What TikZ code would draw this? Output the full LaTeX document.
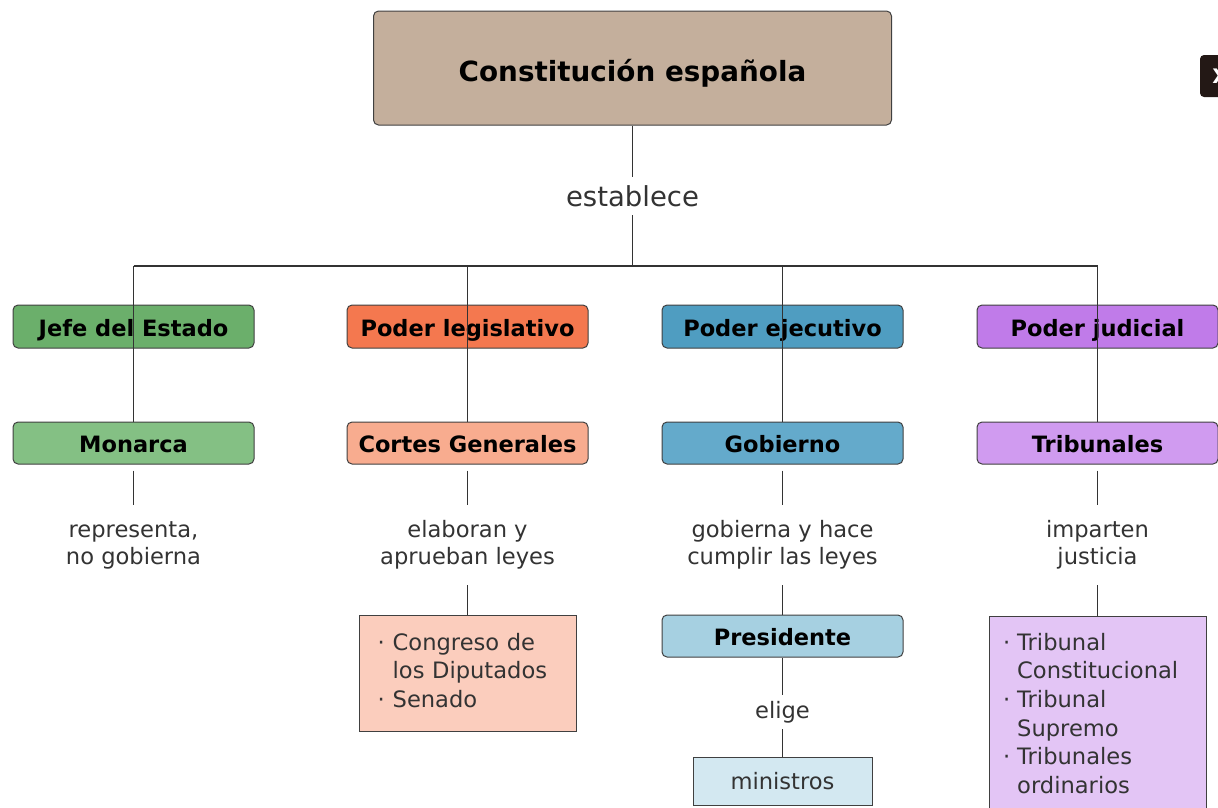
\documentclass[tikz,border=0pt]{standalone}
\usepackage{fontspec}
\setmainfont{DejaVu Sans}
\begin{document}
\begin{tikzpicture}[x=1pt,y=-1pt,
  conn/.style={draw=black!80,line width=1.3pt},
  box/.style={draw=black!75,line width=1pt,rounded corners=5pt,minimum width=241pt,inner sep=0pt,text height=22pt,text depth=3pt,font=\fontsize{22.5}{27}\selectfont\bfseries,text=black},
  lbl/.style={inner sep=0pt,align=center,text=black!80,font=\fontsize{22.6}{27}\selectfont},
  listbox/.style={draw=black!75,line width=1pt,inner sep=0pt,text=black!80,font=\fontsize{22.6}{28.6}\selectfont,align=left}
]
\useasboundingbox (0,0) rectangle (1218,807);
\definecolor{ctop}{HTML}{C4AF9C}
\definecolor{gA}{HTML}{6BAF6B}
\definecolor{gB}{HTML}{84C084}
\definecolor{oA}{HTML}{F4784F}
\definecolor{oB}{HTML}{F8AC8F}
\definecolor{oC}{HTML}{FBCDBD}
\definecolor{bA}{HTML}{4F9DC1}
\definecolor{bB}{HTML}{64AACB}
\definecolor{bC}{HTML}{A6D0E1}
\definecolor{bD}{HTML}{D3E8F1}
\definecolor{pA}{HTML}{C07BE9}
\definecolor{pB}{HTML}{D09BF0}
\definecolor{pC}{HTML}{E3C5F5}
\definecolor{xbtn}{HTML}{231815}

% close button artifact
\begin{scope}
\clip (0,0) rectangle (1218,807);
\fill[xbtn,rounded corners=4pt] (1200,55) rectangle (1240,97);
\node[text=white,font=\bfseries\fontsize{20}{24}\selectfont,inner sep=0pt] (xb) at (1220,76) {X};
\end{scope}

% top
\node[box,fill=ctop,minimum width=518pt,minimum height=114pt,text height=29pt,text depth=2pt,font=\fontsize{27.8}{32}\selectfont\bfseries] (top) at (632.5,68) {Constitución española};
\node[lbl,font=\fontsize{27.5}{32}\selectfont,minimum height=38pt] (est) at (632.5,196) {establece};
\draw[conn] (top.south) -- (est.north);
\coordinate (hub) at (632.5,266);
\draw[conn] (est.south) -- (hub);

% row 1
\node[box,fill=gA,minimum height=43pt] (jefe) at (133.5,326.5) {Jefe del Estado};
\node[box,fill=oA,minimum height=43pt] (leg) at (467.5,326.5) {Poder legislativo};
\node[box,fill=bA,minimum height=43pt] (eje) at (782.5,326.5) {Poder ejecutivo};
\node[box,fill=pA,minimum height=43pt] (jud) at (1097.5,326.5) {Poder judicial};

% row 2
\node[box,fill=gB,minimum height=42pt] (mon) at (133.5,443) {Monarca};
\node[box,fill=oB,minimum height=42pt] (cor) at (467.5,443) {Cortes Generales};
\node[box,fill=bB,minimum height=42pt] (gob) at (782.5,443) {Gobierno};
\node[box,fill=pB,minimum height=42pt] (tri) at (1097.5,443) {Tribunales};

% bar
\coordinate (c1) at (133.5,266);
\coordinate (c2) at (467.5,266);
\coordinate (c3) at (782.5,266);
\coordinate (c4) at (1097.5,266);
\draw[conn] (c1) -- (c4);
\draw[conn] (c1) -- (mon.north);
\draw[conn] (c2) -- (cor.north);
\draw[conn] (c3) -- (gob.north);
\draw[conn] (c4) -- (tri.north);

% labels
\node[lbl,minimum height=80pt] (l1) at (133.5,545) {representa,\\no gobierna};
\node[lbl,minimum height=80pt] (l2) at (467.5,545) {elaboran y\\aprueban leyes};
\node[lbl,minimum height=80pt] (l3) at (782.5,545) {gobierna y hace\\cumplir las leyes};
\node[lbl,minimum height=80pt] (l4) at (1097.5,545) {imparten\\justicia};
\draw[conn,shorten <=6pt] (mon.south) -- (l1.north);
\draw[conn,shorten <=6pt] (cor.south) -- (l2.north);
\draw[conn,shorten <=6pt] (gob.south) -- (l3.north);
\draw[conn,shorten <=6pt] (tri.south) -- (l4.north);

% legislative list
\node[listbox,fill=oC,minimum width=217pt,minimum height=116pt,text width=180pt] (cong) at (467.5,673)
  {\begin{tabular}{@{}l@{\hspace{8pt}}l@{}}·&Congreso de\\ &los Diputados\\ ·&Senado\end{tabular}};
\draw[conn] (l2.south) -- (cong.north);

% executive chain
\node[box,fill=bC,minimum height=42pt] (pre) at (782.5,636) {Presidente};
\draw[conn] (l3.south) -- (pre.north);
\node[lbl,minimum height=34pt] (eli) at (782.5,712) {elige};
\draw[conn] (pre.south) -- (eli.north);
\node[draw=black!75,line width=1pt,fill=bD,minimum width=179pt,minimum height=48pt,inner sep=0pt,text=black!80,font=\fontsize{22.6}{27}\selectfont] (min) at (782.5,781) {ministros};
\draw[conn] (eli.south) -- (min.north);

% judicial list
\node[listbox,fill=pC,minimum width=217pt,minimum height=200pt,text width=189pt] (trib) at (1097.5,716)
  {\begin{tabular}{@{}l@{\hspace{7pt}}l@{}}·&Tribunal\\ &Constitucional\\ ·&Tribunal\\ &Supremo\\ ·&Tribunales\\ &ordinarios\end{tabular}};
\draw[conn] (l4.south) -- (trib.north);
\end{tikzpicture}
\end{document}
